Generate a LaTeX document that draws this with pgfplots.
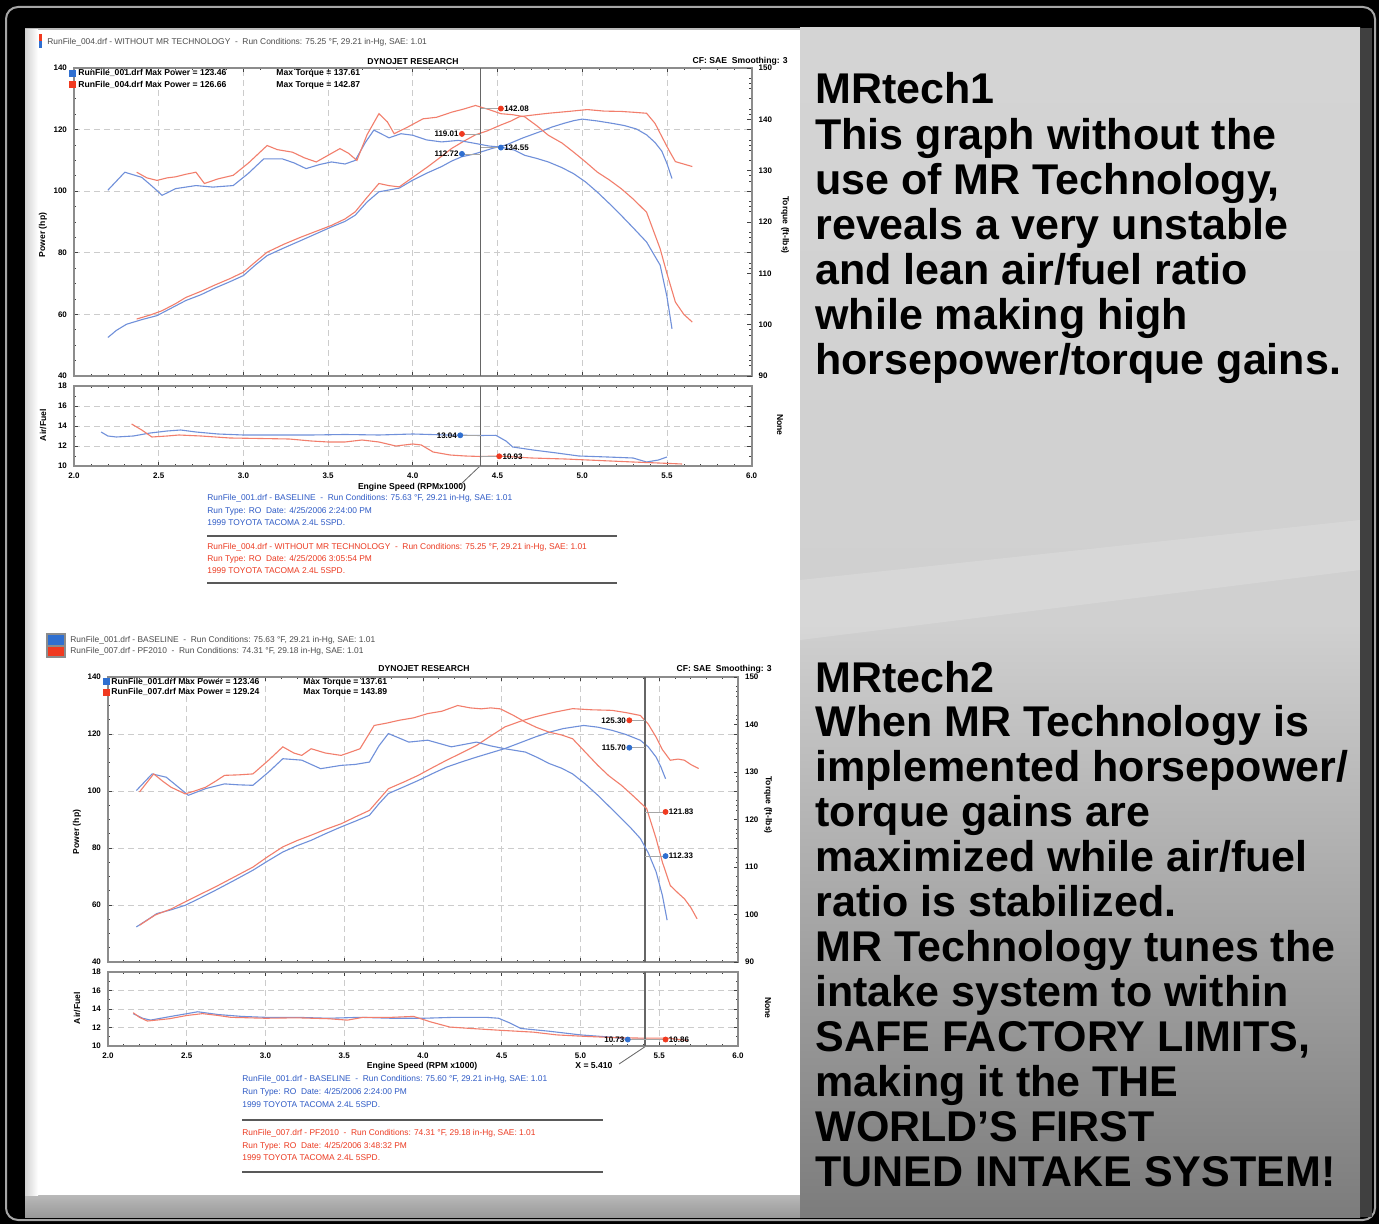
\documentclass[border=0pt]{standalone}
\usepackage{fontspec}
\setmainfont{Liberation Sans}
\usepackage{pgfplots}
\pgfplotsset{compat=1.18}
\definecolor{pblue}{HTML}{7090DA}
\definecolor{pred}{HTML}{F27E6C}
\definecolor{tblue}{HTML}{2F5BC6}
\definecolor{tred}{HTML}{EC3B22}
\definecolor{fgray}{HTML}{8C8C8C}
\definecolor{mblue}{HTML}{2F6FD0}
\definecolor{mred}{HTML}{F03A20}
\newcommand{\tk}{\fontsize{4}{4}\selectfont\bfseries}
\newcommand{\sm}{\fontsize{4.2}{4.6}\selectfont}
\newcommand{\smb}{\fontsize{4.3}{4.6}\selectfont\bfseries}
\newcommand{\rt}{\fontsize{21.5}{22}\selectfont\bfseries}
\pgfplotsset{
  dyno/.style={scale only axis, xmin=2, xmax=6, clip=false,
    axis line style={fgray, line width=1.1pt},
    every tick/.style={black!75, line width=0.35pt},
    major tick length=2.2pt, minor tick length=1.2pt,
    tick label style={font=\tk, /pgf/number format/assume math mode=true},
    xtick={2,2.5,...,6}, minor x tick num=4,
    grid=major, major grid style={densely dashed, gray!40, line width=0.35pt}},
  tq/.style={scale only axis, xmin=2, xmax=6, clip=false,
    axis x line=none, axis y line*=right,
    axis line style={fgray, line width=1.1pt},
    every tick/.style={black!75, line width=0.35pt},
    major tick length=2.2pt, minor tick length=1.2pt,
    tick label style={font=\tk, /pgf/number format/assume math mode=true},
    ymin=90, ymax=150, ytick={90,100,...,150}, minor y tick num=4},
  afr/.style={dyno, ymin=10, ymax=18, ytick={10,12,...,18}, minor y tick num=1,
    xticklabel style={/pgf/number format/.cd, fixed, fixed zerofill, precision=1}},
  bl/.style={pblue, line width=0.55pt},
  rl/.style={pred, line width=0.55pt},
  cur/.style={black!60, line width=0.8pt},
  lead/.style={gray!70, line width=0.4pt},
  lbL/.style={only marks, mark=*, mark size=1.25pt, nodes near coords={#1},
    every node near coord/.append style={anchor=east, font=\tk, text=black, inner sep=1.5pt}},
  lbR/.style={only marks, mark=*, mark size=1.25pt, nodes near coords={#1},
    every node near coord/.append style={anchor=west, font=\tk, text=black, inner sep=1.5pt}},
}
\begin{document}
\begin{tikzpicture}
\begin{scope}[x=0.5pt, y=-0.5pt]
% background
\fill[black] (0,0) rectangle (1379,1224);
\draw[gray!70, line width=1pt, rounded corners=6pt] (6,7) rectangle (1375,1220);
\fill[gray!55] (25,28) rectangle (1372,1217);
\shade[top color=gray!55, bottom color=gray!80] (25,1195) rectangle (800,1217);
\shade[left color=gray!35, right color=white] (25,30) rectangle (38,1195);
\shade[top color={rgb,255:red,212;green,212;blue,212}, bottom color={rgb,255:red,124;green,124;blue,124}, middle color={rgb,255:red,208;green,208;blue,208}] (800,28) rectangle (1360,1217);
\fill[white, opacity=0.15] (800,580) -- (1360,520) -- (1360,570) -- (800,640) -- cycle;
\fill[black!75] (1360,28) rectangle (1372,1217);
\fill[white] (38,30) rectangle (800,1195);

% ===== right text =====
\begin{scope}[every node/.style={anchor=base west, font=\rt, inner sep=0}]
\node at (815,104) {MRtech1};
\node at (815,150) {This graph without the};
\node at (815,195) {use of MR Technology,};
\node at (815,240) {reveals a very unstable};
\node at (815,285) {and lean air/fuel ratio};
\node at (815,330) {while making high};
\node at (815,375) {horsepower/torque gains.};
\node at (815,692) {MRtech2};
\node at (815,736) {When MR Technology is};
\node at (815,781) {implemented horsepower/};
\node at (815,826) {torque gains are};
\node at (815,871) {maximized while air/fuel};
\node at (815,916) {ratio is stabilized.};
\node at (815,961) {MR Technology tunes the};
\node at (815,1006) {intake system to within};
\node at (815,1051) {SAFE FACTORY LIMITS,};
\node at (815,1096) {making it the THE};
\node at (815,1141) {WORLD'S FIRST};
\node at (815,1186) {TUNED INTAKE SYSTEM!};
\end{scope}

% ===== chart 1 texts =====
\fill[mred] (39,34) rectangle (42,41); \fill[mblue] (39,41) rectangle (42,48);
\node[anchor=west, font=\sm, text=black!70, inner sep=0] at (47,42) {RunFile\_004.drf - WITHOUT MR TECHNOLOGY\ \ -\ \ Run Conditions: 75.25 °F, 29.21 in-Hg, SAE: 1.01};
\node[font=\smb, inner sep=0] at (413,62) {DYNOJET RESEARCH};
\node[anchor=east, font=\smb, inner sep=0] at (788,61) {CF: SAE\ \ Smoothing: 3};
\node[rotate=90, font=\smb] at (43,235) {Power (hp)};
\node[rotate=-90, font=\smb] at (785,225) {Torque (ft-lbs)};
\node[rotate=90, font=\smb] at (43,425) {Air/Fuel};
\node[rotate=-90, font=\smb] at (780,425) {None};
\node[font=\smb, inner sep=0] at (412,487) {Engine Speed (RPMx1000)};
\draw[black!60, line width=0.4pt] (480,466) -- (460,485);
\node[anchor=west, font=\sm, text=tblue, inner sep=0] at (207,498) {RunFile\_001.drf - BASELINE\ \ -\ \ Run Conditions: 75.63 °F, 29.21 in-Hg, SAE: 1.01};
\node[anchor=west, font=\sm, text=tblue, inner sep=0] at (207,511) {Run Type: RO\ \ Date: 4/25/2006 2:24:00 PM};
\node[anchor=west, font=\sm, text=tblue, inner sep=0] at (207,523) {1999 TOYOTA TACOMA 2.4L 5SPD.};
\draw[black!65, line width=1.3pt] (207,536) -- (617,536);
\node[anchor=west, font=\sm, text=tred, inner sep=0] at (207,547) {RunFile\_004.drf - WITHOUT MR TECHNOLOGY\ \ -\ \ Run Conditions: 75.25 °F, 29.21 in-Hg, SAE: 1.01};
\node[anchor=west, font=\sm, text=tred, inner sep=0] at (207,559) {Run Type: RO\ \ Date: 4/25/2006 3:05:54 PM};
\node[anchor=west, font=\sm, text=tred, inner sep=0] at (207,571) {1999 TOYOTA TACOMA 2.4L 5SPD.};
\draw[black!65, line width=1.3pt] (207,583) -- (617,583);

% ===== chart 2 texts =====
\fill[fgray] (46,633) rectangle (66,658);
\fill[mblue] (48,635) rectangle (64,645); \fill[mred] (48,647) rectangle (64,656);
\node[anchor=west, font=\sm, text=black!70, inner sep=0] at (70,640) {RunFile\_001.drf - BASELINE\ \ -\ \ Run Conditions: 75.63 °F, 29.21 in-Hg, SAE: 1.01};
\node[anchor=west, font=\sm, text=black!70, inner sep=0] at (70,651) {RunFile\_007.drf - PF2010\ \ -\ \ Run Conditions: 74.31 °F, 29.18 in-Hg, SAE: 1.01};
\node[font=\smb, inner sep=0] at (424,669) {DYNOJET RESEARCH};
\node[anchor=east, font=\smb, inner sep=0] at (772,669) {CF: SAE\ \ Smoothing: 3};
\node[rotate=90, font=\smb] at (77,832) {Power (hp)};
\node[rotate=-90, font=\smb] at (768,805) {Torque (ft-lbs)};
\node[rotate=90, font=\smb] at (77,1008) {Air/Fuel};
\node[rotate=-90, font=\smb] at (768,1008) {None};
\node[font=\smb, inner sep=0] at (422,1066) {Engine Speed (RPM x1000)};
\node[anchor=west, font=\smb, inner sep=0] at (575,1066) {X = 5.410};
\draw[black!60, line width=0.4pt] (619,1064) -- (646,1046);
\node[anchor=west, font=\sm, text=tblue, inner sep=0] at (242,1079) {RunFile\_001.drf - BASELINE\ \ -\ \ Run Conditions: 75.60 °F, 29.21 in-Hg, SAE: 1.01};
\node[anchor=west, font=\sm, text=tblue, inner sep=0] at (242,1092) {Run Type: RO\ \ Date: 4/25/2006 2:24:00 PM};
\node[anchor=west, font=\sm, text=tblue, inner sep=0] at (242,1105) {1999 TOYOTA TACOMA 2.4L 5SPD.};
\draw[black!65, line width=1.3pt] (242,1120) -- (603,1120);
\node[anchor=west, font=\sm, text=tred, inner sep=0] at (242,1133) {RunFile\_007.drf - PF2010\ \ -\ \ Run Conditions: 74.31 °F, 29.18 in-Hg, SAE: 1.01};
\node[anchor=west, font=\sm, text=tred, inner sep=0] at (242,1146) {Run Type: RO\ \ Date: 4/25/2006 3:48:32 PM};
\node[anchor=west, font=\sm, text=tred, inner sep=0] at (242,1158) {1999 TOYOTA TACOMA 2.4L 5SPD.};
\draw[black!65, line width=1.3pt] (242,1172) -- (603,1172);
\end{scope}

% ===== chart 1 main =====
\begin{axis}[dyno, at={(37pt,-188pt)}, anchor=south west, width=338.8pt, height=154pt,
  ymin=40, ymax=140, ytick={40,60,...,140}, minor y tick num=3, xticklabels={}]
\addplot[bl] coordinates {(2.20,52.5)(2.25,54.8)(2.31,56.8)(2.40,58.3)(2.49,59.6)(2.58,62.2)(2.66,64.5)(2.75,66.4)(2.83,68.5)(2.92,70.6)(3.0,72.6)(3.07,76.0)(3.14,79.1)(3.24,81.6)(3.34,84.0)(3.43,86.2)(3.52,88.4)(3.60,90.2)(3.66,92.2)(3.73,96.5)(3.80,99.8)(3.86,100.4)(3.92,101.0)(4.0,103.6)(4.08,105.8)(4.17,108.0)(4.23,109.8)(4.29,111.2)(4.35,111.9)(4.40,112.7)(4.47,113.9)(4.55,115.0)(4.65,117.3)(4.75,119.3)(4.82,120.8)(4.89,122.0)(4.95,122.9)(5.0,123.4)(5.09,122.8)(5.18,122.0)(5.25,121.3)(5.32,120.2)(5.38,118.3)(5.43,115.8)(5.47,113.0)(5.50,109.0)(5.53,104.1)};
\addplot[rl] coordinates {(2.37,58.5)(2.45,59.8)(2.52,61.2)(2.60,63.5)(2.66,65.5)(2.75,67.5)(2.83,69.5)(2.92,71.6)(3.0,73.7)(3.07,77.0)(3.14,80.2)(3.24,82.8)(3.34,85.1)(3.43,87.0)(3.52,88.9)(3.60,91.0)(3.66,93.3)(3.73,98.0)(3.80,102.5)(3.86,101.8)(3.92,101.4)(4.0,104.5)(4.09,108.0)(4.16,110.9)(4.23,113.9)(4.30,116.2)(4.37,118.3)(4.44,119.6)(4.52,121.5)(4.58,122.8)(4.63,124.2)(4.72,124.8)(4.80,125.3)(4.92,125.9)(5.03,126.5)(5.13,126.0)(5.23,125.9)(5.31,125.6)(5.38,125.3)(5.43,122.0)(5.46,118.8)(5.51,113.5)(5.55,109.6)(5.60,108.8)(5.65,108.0)};
\addplot[cur] coordinates {(4.40,40)(4.40,140)};
\addplot[lead] coordinates {(4.29,118.6)(4.40,118.6)};
\addplot[lead] coordinates {(4.29,112.1)(4.40,112.1)};
\addplot[lbL={119.01}, mred] coordinates {(4.29,118.6)};
\addplot[lbL={112.72}, mblue] coordinates {(4.29,112.1)};
\end{axis}
\begin{axis}[tq, at={(37pt,-188pt)}, anchor=south west, width=338.8pt, height=154pt]
\addplot[bl] coordinates {(2.20,126.2)(2.30,129.7)(2.40,128.7)(2.46,127.0)(2.52,125.2)(2.60,126.5)(2.72,127.1)(2.82,126.8)(2.94,127.1)(3.03,129.5)(3.12,132.3)(3.23,132.3)(3.30,131.5)(3.37,130.4)(3.45,131.2)(3.52,131.7)(3.60,131.3)(3.66,132.0)(3.72,135.5)(3.77,137.9)(3.86,136.4)(3.93,137.2)(4.0,136.9)(4.08,136.0)(4.17,135.6)(4.27,135.9)(4.37,135.3)(4.45,134.8)(4.52,134.6)(4.60,134.0)(4.66,133.0)(4.73,132.4)(4.80,131.7)(4.88,130.6)(4.95,129.4)(5.02,127.8)(5.09,125.8)(5.16,123.6)(5.23,121.3)(5.30,118.9)(5.38,116.1)(5.46,111.6)(5.50,105.5)(5.53,99.2)};
\addplot[rl] coordinates {(2.37,129.7)(2.43,128.6)(2.49,128.1)(2.55,128.6)(2.60,128.8)(2.66,129.3)(2.72,129.7)(2.77,127.5)(2.85,128.4)(2.94,129.1)(3.03,131.5)(3.14,134.9)(3.20,134.1)(3.29,133.6)(3.36,132.5)(3.43,131.7)(3.50,133.0)(3.57,134.3)(3.62,133.4)(3.67,132.0)(3.73,137.0)(3.80,141.1)(3.85,139.5)(3.89,137.2)(3.97,138.5)(4.06,140.1)(4.14,140.4)(4.23,141.4)(4.30,142.0)(4.37,142.7)(4.45,141.9)(4.52,141.1)(4.59,140.9)(4.66,140.5)(4.73,138.8)(4.80,136.9)(4.88,135.4)(4.95,133.6)(5.02,131.7)(5.09,129.7)(5.16,128.2)(5.23,126.5)(5.30,124.5)(5.38,121.9)(5.46,114.8)(5.50,110.0)(5.55,104.4)(5.60,102.0)(5.65,100.5)};
\addplot[lead] coordinates {(4.40,142.1)(4.52,142.1)};
\addplot[lead] coordinates {(4.40,134.5)(4.52,134.5)};
\addplot[lbR={142.08}, mred] coordinates {(4.52,142.1)};
\addplot[lbR={134.55}, mblue] coordinates {(4.52,134.5)};
\end{axis}
% chart 1 AFR
\begin{axis}[afr, at={(37pt,-233pt)}, anchor=south west, width=338.8pt, height=40pt]
\addplot[bl] coordinates {(2.16,13.4)(2.20,13.0)(2.25,12.9)(2.35,13.0)(2.45,13.3)(2.55,13.5)(2.63,13.6)(2.72,13.4)(2.85,13.2)(3.0,13.1)(3.2,13.1)(3.4,13.1)(3.6,13.15)(3.8,13.1)(4.0,13.2)(4.2,13.1)(4.4,13.05)(4.49,13.07)(4.55,12.5)(4.59,11.9)(4.71,11.6)(4.85,11.3)(4.98,11.0)(5.15,10.9)(5.30,10.8)(5.38,10.4)(5.45,10.6)(5.50,10.9)};
\addplot[rl] coordinates {(2.34,14.2)(2.40,13.6)(2.46,12.9)(2.55,13.0)(2.62,13.1)(2.75,13.0)(2.92,12.8)(3.1,12.75)(3.27,12.7)(3.4,12.5)(3.5,12.4)(3.6,12.4)(3.7,12.6)(3.8,12.4)(3.9,12.0)(4.0,12.2)(4.05,12.1)(4.12,11.4)(4.22,11.1)(4.31,11.0)(4.4,10.95)(4.51,11.0)(4.7,10.8)(4.9,10.7)(5.1,10.55)(5.3,10.4)(5.45,10.3)(5.59,10.2)};
\addplot[cur] coordinates {(4.40,10)(4.40,18)};
\addplot[lead] coordinates {(4.28,13.07)(4.40,13.07)};
\addplot[lead] coordinates {(4.40,10.97)(4.51,10.97)};
\addplot[lbL={13.04}, mblue] coordinates {(4.28,13.07)};
\addplot[lbR={10.93}, mred] coordinates {(4.51,10.97)};
\end{axis}

% ===== chart 2 main =====
\begin{axis}[dyno, at={(54pt,-481pt)}, anchor=south west, width=315pt, height=142.5pt,
  ymin=40, ymax=140, ytick={40,60,...,140}, minor y tick num=3, xticklabels={}]
\addplot[bl] coordinates {(2.18,52.3)(2.25,54.8)(2.31,57.0)(2.40,58.3)(2.49,59.9)(2.58,62.3)(2.68,65.1)(2.80,68.6)(2.92,72.2)(3.01,75.3)(3.11,78.6)(3.20,80.8)(3.29,82.7)(3.38,85.0)(3.48,87.4)(3.57,89.4)(3.66,91.5)(3.72,95.5)(3.78,99.1)(3.88,101.5)(3.97,103.7)(4.06,106.1)(4.15,108.4)(4.25,110.3)(4.34,111.9)(4.43,113.4)(4.52,114.9)(4.62,117.0)(4.71,118.9)(4.80,120.6)(4.89,121.9)(5.02,123.0)(5.11,122.4)(5.20,121.3)(5.29,119.8)(5.38,117.8)(5.43,115.5)(5.48,111.9)(5.51,108.5)(5.54,104.3)};
\addplot[rl] coordinates {(2.20,52.9)(2.30,56.5)(2.40,58.6)(2.49,61.1)(2.58,63.6)(2.68,66.3)(2.80,69.8)(2.92,73.3)(3.01,76.8)(3.11,80.4)(3.20,82.6)(3.29,84.5)(3.38,86.5)(3.48,88.5)(3.57,90.9)(3.66,93.2)(3.72,97.0)(3.78,100.8)(3.88,103.2)(3.97,105.5)(4.06,108.2)(4.15,110.8)(4.25,113.5)(4.34,116.0)(4.43,119.3)(4.52,122.5)(4.62,124.5)(4.71,126.0)(4.83,127.6)(4.95,128.9)(5.07,128.5)(5.20,128.3)(5.29,127.5)(5.38,126.5)(5.43,123.5)(5.48,118.9)(5.52,114.5)(5.57,110.8)(5.62,111.2)(5.66,110.8)(5.70,109.3)(5.75,107.9)};
\addplot[cur] coordinates {(5.41,40)(5.41,140)};
\addplot[lead] coordinates {(5.31,124.8)(5.41,124.8)};
\addplot[lead] coordinates {(5.31,115.2)(5.41,115.2)};
\addplot[lbL={125.30}, mred] coordinates {(5.31,124.8)};
\addplot[lbL={115.70}, mblue] coordinates {(5.31,115.2)};
\end{axis}
\begin{axis}[tq, at={(54pt,-481pt)}, anchor=south west, width=315pt, height=142.5pt]
\addplot[bl] coordinates {(2.18,126.1)(2.28,129.6)(2.37,128.9)(2.44,127.0)(2.51,125.1)(2.62,126.5)(2.74,127.5)(2.83,127.3)(2.92,127.2)(3.02,130.0)(3.11,132.8)(3.23,132.5)(3.35,130.7)(3.48,131.4)(3.57,131.6)(3.66,132.1)(3.72,135.5)(3.78,138.1)(3.91,136.3)(4.03,136.7)(4.18,135.3)(4.34,136.3)(4.43,135.5)(4.52,134.9)(4.65,134.2)(4.73,133.0)(4.80,131.8)(4.88,130.8)(4.95,129.6)(5.03,127.5)(5.11,125.1)(5.19,122.5)(5.26,120.2)(5.32,118.2)(5.38,116.0)(5.43,113.0)(5.48,109.0)(5.52,104.0)(5.55,98.8)};
\addplot[rl] coordinates {(2.20,125.8)(2.29,129.6)(2.35,128.0)(2.40,126.8)(2.49,125.4)(2.55,126.0)(2.62,126.8)(2.68,128.0)(2.74,129.3)(2.83,129.4)(2.92,129.6)(3.02,132.5)(3.11,135.3)(3.18,134.0)(3.23,133.5)(3.29,134.9)(3.38,134.0)(3.48,133.5)(3.55,134.3)(3.60,134.9)(3.69,139.8)(3.77,140.3)(3.85,140.9)(3.94,141.4)(4.03,142.3)(4.12,142.8)(4.22,144.0)(4.30,143.5)(4.37,143.3)(4.43,143.5)(4.49,143.3)(4.57,142.0)(4.65,140.5)(4.72,139.4)(4.80,138.4)(4.88,137.8)(4.95,137.0)(5.03,134.2)(5.11,131.4)(5.18,129.2)(5.26,127.2)(5.34,124.8)(5.42,122.3)(5.48,116.0)(5.52,111.0)(5.57,106.1)(5.62,104.5)(5.66,103.3)(5.70,101.5)(5.74,99.1)};
\addplot[lead] coordinates {(5.41,121.6)(5.54,121.6)};
\addplot[lead] coordinates {(5.41,112.3)(5.54,112.3)};
\addplot[lbR={121.83}, mred] coordinates {(5.54,121.6)};
\addplot[lbR={112.33}, mblue] coordinates {(5.54,112.3)};
\end{axis}
% chart 2 AFR
\begin{axis}[afr, at={(54pt,-523pt)}, anchor=south west, width=315pt, height=37pt]
\addplot[bl] coordinates {(2.16,13.5)(2.22,13.0)(2.27,12.8)(2.40,13.2)(2.57,13.7)(2.70,13.4)(2.85,13.2)(3.0,13.1)(3.2,13.1)(3.4,13.0)(3.6,13.1)(3.8,13.0)(4.0,13.0)(4.2,13.1)(4.4,13.1)(4.48,13.0)(4.55,12.5)(4.62,11.9)(4.8,11.6)(5.0,11.2)(5.2,10.95)(5.3,10.7)(5.42,10.75)};
\addplot[rl] coordinates {(2.16,13.6)(2.20,13.1)(2.25,12.7)(2.39,12.95)(2.50,13.3)(2.60,13.5)(2.70,13.3)(2.78,13.1)(3.0,13.0)(3.2,13.05)(3.4,12.95)(3.52,12.8)(3.62,13.1)(3.8,13.1)(3.94,13.2)(4.05,12.6)(4.17,12.05)(4.3,11.9)(4.49,11.7)(4.70,11.5)(4.85,11.2)(5.02,11.05)(5.23,10.9)(5.40,10.85)(5.55,10.85)(5.68,10.6)};
\addplot[cur] coordinates {(5.41,10)(5.41,18)};
\addplot[lead] coordinates {(5.30,10.7)(5.54,10.7)};
\addplot[lbL={10.73}, mblue] coordinates {(5.30,10.7)};
\addplot[lbR={10.86}, mred] coordinates {(5.54,10.7)};
\end{axis}

% legends over axes
\begin{scope}[x=0.5pt, y=-0.5pt]
\fill[mblue] (69,70) rectangle (76,77); \fill[mred] (69,81) rectangle (76,88);
\node[anchor=west, font=\smb, inner sep=0] at (78,73) {RunFile\_001.drf Max Power = 123.46};
\node[anchor=west, font=\smb, inner sep=0] at (276,73) {Max Torque = 137.61};
\node[anchor=west, font=\smb, inner sep=0] at (78,85) {RunFile\_004.drf Max Power = 126.66};
\node[anchor=west, font=\smb, inner sep=0] at (276,85) {Max Torque = 142.87};
\fill[mblue] (103,678) rectangle (110,685); \fill[mred] (103,689) rectangle (110,696);
\node[anchor=west, font=\smb, inner sep=0] at (111,682) {RunFile\_001.drf Max Power = 123.46};
\node[anchor=west, font=\smb, inner sep=0] at (303,682) {Max Torque = 137.61};
\node[anchor=west, font=\smb, inner sep=0] at (111,692) {RunFile\_007.drf Max Power = 129.24};
\node[anchor=west, font=\smb, inner sep=0] at (303,692) {Max Torque = 143.89};
\end{scope}
\end{tikzpicture}
\end{document}
